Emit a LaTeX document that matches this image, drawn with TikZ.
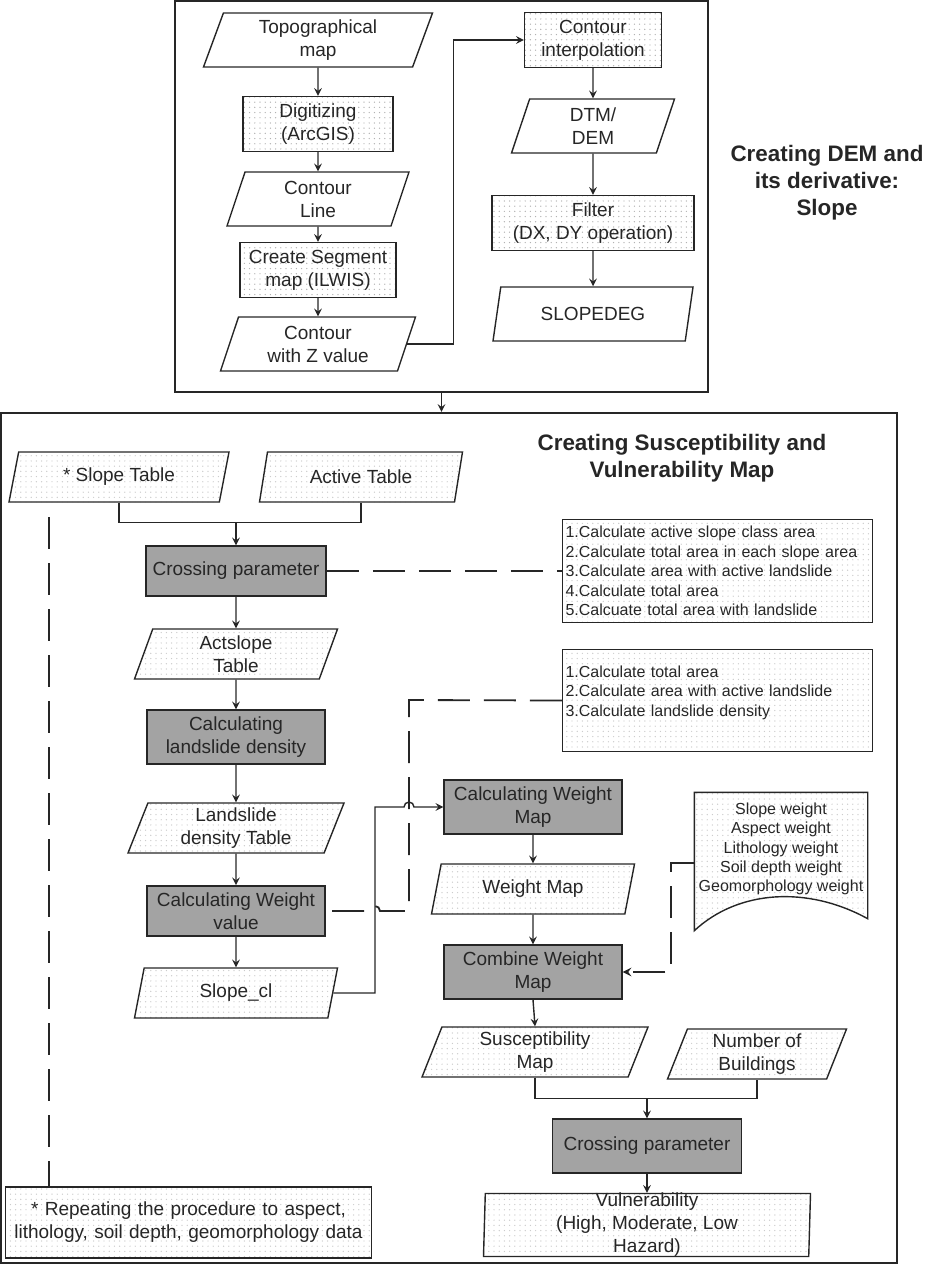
\documentclass[tikz,border=0pt]{standalone}
\usepackage{fontspec}
\setmainfont{Liberation Sans}
\usepackage{tikz}
\usetikzlibrary{shapes.geometric,arrows,positioning,patterns.meta}

\definecolor{procgray}{RGB}{163,163,163}

\tikzdeclarepattern{
  name=pixdots,
  type=uncolored,
  bounding box={(-0.4pt,-0.4pt) and (0.4pt,0.4pt)},
  tile size={(2.6pt,2.6pt)},
  code={\pgfpathcircle{\pgfpointorigin}{0.35pt}\pgfusepath{fill}}
}

\newcommand{\mainsize}{\fontsize{9.5}{11.5}\selectfont}
\newcommand{\notesize}{\fontsize{8}{9.7}\selectfont}
\newcommand{\titlesize}{\fontsize{11.2}{13.5}\selectfont\bfseries}

\begin{document}
\begin{tikzpicture}[
    x=0.5pt, y=-0.5pt,
    line width=0.7pt, color=black!85,
    every node/.style={font=\mainsize, align=center},
    frame/.style={draw, rectangle, line width=1.1pt},
    proc/.style={draw, rectangle, pattern=pixdots, pattern color=gray!60, minimum height=27.5pt, inner sep=1pt},
    calc/.style={draw, rectangle, fill=procgray, minimum width=89pt, minimum height=25pt},
    data/.style={draw, trapezium, trapezium left angle=66, trapezium right angle=114, trapezium stretches body, minimum height=27pt, inner sep=1pt},
    dotdata/.style={data, minimum height=25pt, pattern=pixdots, pattern color=gray!40},
    note/.style={draw, rectangle, pattern=pixdots, pattern color=gray!40, font=\notesize, align=left, text width=152pt, inner xsep=1.5pt, minimum height=51pt},
    arr/.style={->, >=stealth},
    longdash/.style={dash pattern=on 16pt off 7pt, line width=0.9pt}
]
\useasboundingbox (0,0) rectangle (925,1267);

% Frames
\node[frame, minimum width=266.5pt, minimum height=195.5pt] (demframe) at (441.5,196.5) {};
\node[frame, minimum width=448pt, minimum height=425pt] (susframe) at (449,838) {};

% DEM part
\node[data, minimum width=114.5pt] (topo) at (318,40) {Topographical\\map};
\node[proc, minimum width=75pt] (digit) at (318,124) {Digitizing\\(ArcGIS)};
\node[data, minimum width=91pt] (cline) at (318,199) {Contour\\Line};
\node[proc, minimum width=78pt] (segm) at (318,270) {Create Segment\\map (ILWIS)};
\node[data, minimum width=97.5pt] (zval) at (318,344) {Contour\\with Z value};

\node[proc, minimum width=68.5pt] (interp) at (593,40) {Contour\\interpolation};
\node[data, minimum width=81.5pt] (dtm) at (593,126) {DTM/\\DEM};
\node[proc, minimum width=101pt] (filter) at (593,223) {Filter\\(DX, DY operation)};
\node[data, minimum width=100pt] (slopedeg) at (593,314) {SLOPEDEG};

\node[font=\titlesize] (demtitle) at (827,183) {Creating DEM and\\its derivative:\\Slope};

\draw[arr] (topo.south) -- (digit.north);
\draw[arr] (digit.south) -- (cline.north);
\draw[arr] (cline.south) -- (segm.north);
\draw[arr] (segm.south) -- (zval.north);
\draw[arr] (zval.east) -- ++(46,0) |- (interp.west);
\draw[arr] (interp.south) -- (dtm.north);
\draw[arr] (dtm.south) -- (filter.north);
\draw[arr] (filter.south) -- (slopedeg.north);

\draw[arr] (demframe.south) -- (demframe.south |- susframe.north);

% Susceptibility part
\node[font=\titlesize] (sustitle) at (682,458) {Creating Susceptibility and\\Vulnerability Map};

\node[dotdata, minimum width=110pt] (slopetab) at (119,477) {* Slope Table};
\node[dotdata, minimum width=101.5pt] (acttab) at (361,477) {Active Table};
\node[calc] (cross1) at (236,571) {Crossing parameter};
\node[note, minimum width=154.5pt] (steps1) at (717.5,571)
{1.Calculate active slope class area\\
2.Calculate total area in each slope area\\
3.Calculate area with active landslide\\
4.Calculate total area\\
5.Calcuate total area with landslide};
\node[dotdata, minimum width=101.5pt] (actslope) at (236,654) {Actslope\\Table};
\node[calc] (density) at (236,737) {Calculating\\landslide density};
\node[note, minimum width=154.5pt] (steps2) at (717.5,700.5)
{1.Calculate total area\\
2.Calculate area with active landslide\\
3.Calculate landslide density\\ ~};
\node[dotdata, minimum width=108pt] (ldtab) at (236,828) {Landslide\\density Table};
\node[calc] (wval) at (236,911) {Calculating Weight\\value};
\node[dotdata, minimum width=101.5pt] (slopecl) at (236,993) {Slope\_cl};

\node[calc] (wcalc) at (533,807) {Calculating Weight\\Map};
\node[dotdata, minimum width=101.5pt] (wmap) at (533,889) {Weight Map};
\node[calc] (combine) at (533,972) {Combine Weight\\Map};

% weight document
\node[minimum width=86pt, minimum height=70pt, inner sep=0pt] (wdoc) at (781,863) {};
\path[draw, pattern=pixdots, pattern color=gray!40] (wdoc.north west) -- (wdoc.north east)
  -- ([yshift=7.5pt]wdoc.south east)
  .. controls ([xshift=-30pt,yshift=24pt]wdoc.south east) and ([xshift=22pt,yshift=22pt]wdoc.south west)
  .. ([yshift=1.5pt]wdoc.south west) -- cycle;
\node[font=\notesize] (wdoctext) at (781,849) {Slope weight\\Aspect weight\\Lithology weight\\Soil depth weight\\Geomorphology weight};

\node[dotdata, minimum width=113pt] (susc) at (535,1052) {Susceptibility\\Map};
\node[dotdata, minimum width=89.5pt] (nbuild) at (757,1054) {Number of\\Buildings};
\node[calc, minimum width=94.5pt, minimum height=27pt] (cross2) at (647,1146) {Crossing parameter};
\node[dotdata, minimum width=163.5pt, minimum height=31.5pt,
      label={[align=center]center:Vulnerability\\(High, Moderate, Low\\Hazard)}] (vuln) at (647,1225) {};

\node[note, align=center, font=\mainsize, text width=180pt, minimum height=35.5pt] (repeat) at (188.5,1222.5)
{* Repeating the procedure to aspect,\\lithology, soil depth, geomorphology data};

% Connectors
\coordinate[above=11.5pt of cross1.north] (join1);
\draw (slopetab.south) |- (join1) -| (acttab.south);
\draw[arr] (join1) -- (cross1.north);
\draw[arr] (cross1.south) -- (actslope.north);
\draw[arr] (actslope.south) -- (density.north);
\draw[arr] (density.south) -- (ldtab.north);
\draw[arr] (ldtab.south) -- (wval.north);
\draw[arr] (wval.south) -- (slopecl.north);
\draw[longdash] (cross1.east) -- (steps1.west);

\coordinate (riser) at (375,993);
\coordinate (tapx) at (409,700);
\draw[arr] (slopecl.east) -- (riser) -- (riser |- wcalc.west)
  -- ([xshift=-2.5pt]tapx |- wcalc.west) arc[start angle=180, end angle=0, radius=2.5pt]
  -- (wcalc.west);
\draw[longdash] (steps2.west) -- (tapx) -- (tapx |- wval.east)
  -- ([xshift=2.5pt]riser |- wval.east) arc[start angle=0, end angle=180, radius=2.5pt]
  -- (wval.east);

\coordinate (leftdash) at (49,517);
\draw[longdash] (leftdash) -- (leftdash |- repeat.north);

\draw[arr] (wcalc.south) -- (wmap.north);
\draw[arr] (wmap.south) -- (combine.north);
\draw[arr] (combine.south) -- (susc.north);
\draw[longdash, arr] (wdoc.west) -- ++(-23,0) |- (combine.east);

\coordinate[above=10pt of cross2.north] (join2);
\draw (susc.south) |- (join2) -| (nbuild.south);
\draw[arr] (join2) -- (cross2.north);
\draw[arr] (cross2.south) -- (vuln.north);

\end{tikzpicture}
\end{document}
